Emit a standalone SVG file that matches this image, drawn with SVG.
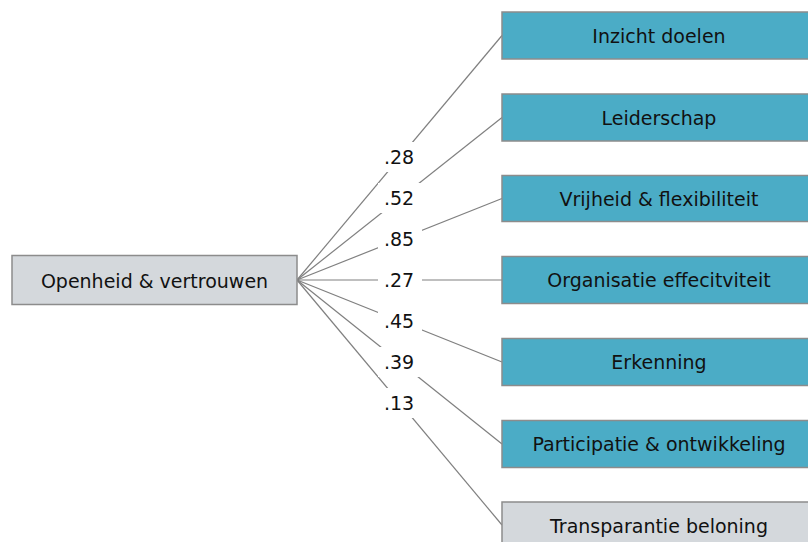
<svg xmlns="http://www.w3.org/2000/svg" width="808" height="542" viewBox="0 0 808 542">
  <style>
    .box { stroke: #8c8c8c; stroke-width: 1.5; }
    .teal { fill: #4bacc6; }
    .grey { fill: #d4d8dc; }
    .lbl { font-family: "DejaVu Sans", Verdana, sans-serif; font-size: 19px; fill: #111; text-anchor: middle; dominant-baseline: central; }
    .edge { stroke: #808080; stroke-width: 1.2; fill: none; }
    .coef-bg { fill: #ffffff; }
  </style>

  <!-- connectors with coefficient labels at their midpoints -->
  <g id="connectors">
    <line class="edge" x1="297" y1="280" x2="502" y2="35.5"/>
    <line class="edge" x1="297" y1="280" x2="502" y2="117.5"/>
    <line class="edge" x1="297" y1="280" x2="502" y2="198.5"/>
    <line class="edge" x1="297" y1="280" x2="502" y2="280"/>
    <line class="edge" x1="297" y1="280" x2="502" y2="362"/>
    <line class="edge" x1="297" y1="280" x2="502" y2="444"/>
    <line class="edge" x1="297" y1="280" x2="502" y2="525"/>

    <rect class="coef-bg" x="378" y="142" width="44" height="30"/>
    <rect class="coef-bg" x="378" y="183" width="44" height="30"/>
    <rect class="coef-bg" x="378" y="224" width="44" height="30"/>
    <rect class="coef-bg" x="378" y="265" width="44" height="30"/>
    <rect class="coef-bg" x="378" y="306" width="44" height="30"/>
    <rect class="coef-bg" x="378" y="347" width="44" height="30"/>
    <rect class="coef-bg" x="378" y="388" width="44" height="30"/>

    <text class="lbl" x="399" y="157">.28</text>
    <text class="lbl" x="399" y="198">.52</text>
    <text class="lbl" x="399" y="239">.85</text>
    <text class="lbl" x="399" y="280">.27</text>
    <text class="lbl" x="399" y="321">.45</text>
    <text class="lbl" x="399" y="362">.39</text>
    <text class="lbl" x="399" y="403">.13</text>
  </g>

  <g id="openheid">
    <rect class="box grey" x="12" y="255.5" width="285" height="49"/>
    <text class="lbl" x="154.5" y="281">Openheid &amp; vertrouwen</text>
  </g>

  <g id="inzicht">
    <rect class="box teal" x="502" y="12" width="310" height="47"/>
    <text class="lbl" x="659" y="36">Inzicht doelen</text>
  </g>

  <g id="leiderschap">
    <rect class="box teal" x="502" y="94" width="310" height="47"/>
    <text class="lbl" x="659" y="118">Leiderschap</text>
  </g>

  <g id="vrijheid">
    <rect class="box teal" x="502" y="175.5" width="310" height="46"/>
    <text class="lbl" x="659" y="199">Vrijheid &amp; flexibiliteit</text>
  </g>

  <g id="organisatie">
    <rect class="box teal" x="502" y="256.5" width="310" height="47"/>
    <text class="lbl" x="659" y="280">Organisatie effecitviteit</text>
  </g>

  <g id="erkenning">
    <rect class="box teal" x="502" y="338.5" width="310" height="47"/>
    <text class="lbl" x="659" y="362">Erkenning</text>
  </g>

  <g id="participatie">
    <rect class="box teal" x="502" y="420.5" width="310" height="47"/>
    <text class="lbl" x="659" y="444">Participatie &amp; ontwikkeling</text>
  </g>

  <g id="transparantie">
    <rect class="box grey" x="502" y="502" width="310" height="47"/>
    <text class="lbl" x="659" y="526">Transparantie beloning</text>
  </g>
</svg>
